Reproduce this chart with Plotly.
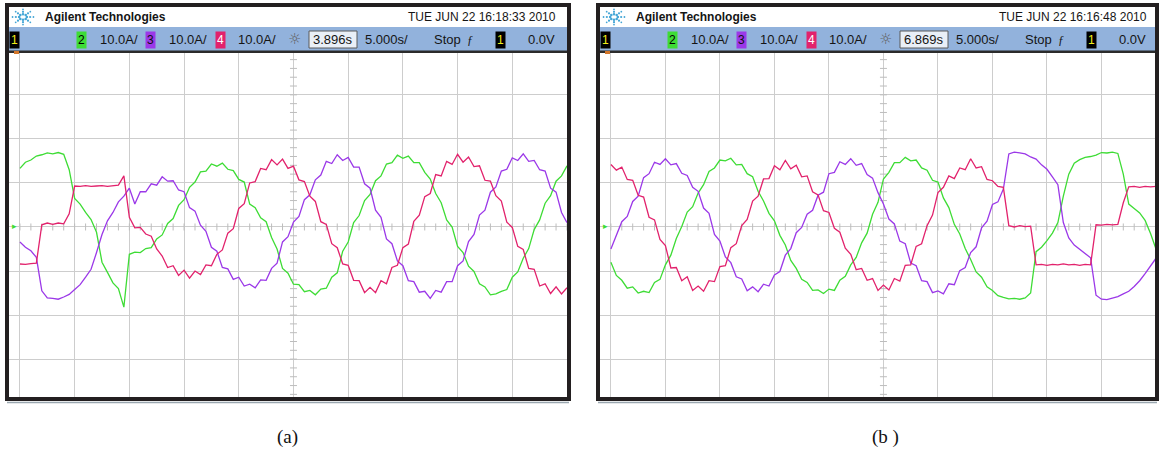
import plotly.graph_objects as go

W, H = 1159, 452

# sample times in screen divisions (horizontal: 5.000 ms/div)
t_div = [i / 10 for i in range(101)]

# panel (a) phase currents, in screen divisions (10.0 A/div)
a_green = [1.33, 1.47, 1.52, 1.61, 1.64, 1.68, 1.66, 1.69, 1.65, 1.30,
           0.65, 0.52, 0.33, 0.17, -0.12, -0.80, -1.03, -1.27, -1.40, -1.82,
           -0.62, -0.57, -0.58, -0.49, -0.47, -0.27, -0.18, 0.08, 0.19, 0.49,
           0.62, 0.90, 1.02, 1.25, 1.27, 1.43, 1.38, 1.45, 1.31, 1.28,
           1.08, 1.02, 0.52, 0.44, 0.21, 0.12, -0.24, -0.50, -0.94, -1.05,
           -1.30, -1.31, -1.47, -1.44, -1.54, -1.41, -1.39, -1.14, -1.04, -0.55,
           -0.34, 0.10, 0.26, 0.60, 0.74, 1.05, 1.16, 1.43, 1.46, 1.63,
           1.56, 1.61, 1.46, 1.46, 1.24, 1.09, 0.76, 0.55, 0.16, 0.00,
           -0.44, -0.58, -0.89, -1.01, -1.29, -1.36, -1.54, -1.52, -1.46, -1.42,
           -1.14, -1.02, -0.71, -0.49, -0.06, 0.16, 0.54, 0.71, 1.04, 1.16, 1.39]
a_purple = [-0.34, -0.46, -0.54, -0.69, -1.45, -1.61, -1.62, -1.64, -1.59, -1.53,
            -1.42, -1.31, -1.14, -0.96, -0.58, -0.17, 0.14, 0.33, 0.57, 0.70,
            0.88, 0.52, 0.80, 0.80, 0.98, 0.95, 1.14, 1.04, 1.05, 0.84,
            0.80, 0.44, 0.36, 0.04, -0.10, -0.46, -0.55, -0.92, -0.95, -1.19,
            -1.14, -1.34, -1.30, -1.38, -1.20, -1.21, -0.94, -0.82, -0.34, -0.22,
            0.11, 0.24, 0.62, 0.73, 1.07, 1.18, 1.49, 1.44, 1.64, 1.51,
            1.58, 1.36, 1.36, 0.98, 0.88, 0.38, 0.22, -0.27, -0.38, -0.77,
            -0.88, -1.22, -1.24, -1.48, -1.46, -1.62, -1.44, -1.48, -1.24, -1.24,
            -0.88, -0.77, -0.33, -0.17, 0.27, 0.38, 0.79, 0.91, 1.27, 1.31,
            1.57, 1.51, 1.66, 1.49, 1.51, 1.30, 1.27, 0.88, 0.79, 0.33, 0.10]
a_red = [-0.84, -0.85, -0.83, -0.82, 0.05, 0.09, 0.06, 0.09, 0.07, 0.30,
         0.93, 0.92, 0.94, 0.92, 0.93, 0.94, 0.92, 0.94, 0.95, 1.16,
         0.22, -0.02, -0.01, -0.16, -0.21, -0.50, -0.66, -0.92, -0.88, -1.10,
         -0.98, -1.16, -1.00, -1.08, -0.86, -0.88, -0.62, -0.52, -0.14, -0.04,
         0.42, 0.53, 1.00, 1.03, 1.33, 1.30, 1.53, 1.41, 1.54, 1.33,
         1.38, 1.07, 1.03, 0.70, 0.58, 0.12, 0.06, -0.38, -0.47, -0.84,
         -0.87, -1.21, -1.22, -1.49, -1.37, -1.49, -1.22, -1.29, -0.92, -0.87,
         -0.47, -0.39, 0.13, 0.27, 0.69, 0.76, 1.19, 1.16, 1.49, 1.42,
         1.65, 1.47, 1.59, 1.37, 1.39, 1.06, 1.04, 0.71, 0.59, 0.11,
         -0.01, -0.44, -0.51, -0.94, -0.96, -1.34, -1.29, -1.51, -1.36, -1.52, -1.38]

# panel (b) phase currents, in screen divisions (10.0 A/div)
b_green = [-0.80, -1.10, -1.21, -1.39, -1.36, -1.50, -1.46, -1.49, -1.26, -1.19,
           -0.86, -0.64, -0.26, 0.01, 0.34, 0.46, 0.77, 0.96, 1.26, 1.34,
           1.52, 1.50, 1.56, 1.41, 1.42, 1.21, 1.14, 0.81, 0.59, 0.31,
           0.14, -0.19, -0.41, -0.76, -0.94, -1.19, -1.26, -1.44, -1.43, -1.51,
           -1.41, -1.44, -1.21, -1.12, -0.86, -0.69, -0.36, -0.14, 0.29, 0.56,
           1.09, 1.24, 1.46, 1.46, 1.58, 1.50, 1.52, 1.34, 1.29, 1.06,
           1.02, 0.66, 0.44, 0.06, -0.16, -0.49, -0.74, -1.02, -1.14, -1.36,
           -1.44, -1.56, -1.60, -1.63, -1.62, -1.64, -1.61, -1.50, -0.56, -0.46,
           -0.31, -0.14, 0.10, 0.70, 1.20, 1.45, 1.53, 1.58, 1.60, 1.63,
           1.69, 1.68, 1.70, 1.67, 1.20, 0.52, 0.42, 0.32, 0.15, -0.15, -0.50]
b_purple = [-0.50, -0.20, 0.12, 0.24, 0.58, 0.70, 1.12, 1.21, 1.47, 1.42,
            1.55, 1.41, 1.44, 1.22, 1.17, 0.90, 0.81, 0.43, 0.31, -0.17,
            -0.32, -0.68, -0.81, -1.13, -1.18, -1.45, -1.36, -1.47, -1.30, -1.34,
            -1.09, -1.01, -0.64, -0.49, -0.13, -0.01, 0.29, 0.38, 0.72, 0.79,
            1.21, 1.24, 1.48, 1.42, 1.55, 1.40, 1.44, 1.19, 1.11, 0.78,
            0.52, 0.18, 0.07, -0.32, -0.38, -0.82, -0.88, -1.22, -1.24, -1.49,
            -1.45, -1.52, -1.29, -1.31, -0.99, -0.92, -0.58, -0.45, -0.02, 0.13,
            0.51, 0.57, 0.86, 1.66, 1.70, 1.68, 1.66, 1.59, 1.54, 1.41,
            1.31, 1.14, 0.96, 0.10, -0.25, -0.41, -0.50, -0.61, -0.70, -1.55,
            -1.64, -1.65, -1.62, -1.58, -1.52, -1.46, -1.35, -1.22, -1.06, -0.88, -0.71]
b_red = [1.42, 1.29, 1.36, 1.08, 1.06, 0.72, 0.68, 0.22, 0.16, -0.28,
         -0.42, -0.93, -0.92, -1.22, -1.13, -1.44, -1.34, -1.46, -1.22, -1.24,
         -0.90, -0.88, -0.47, -0.38, 0.03, 0.17, 0.59, 0.70, 1.09, 1.10,
         1.39, 1.30, 1.51, 1.32, 1.40, 1.14, 1.16, 0.80, 0.73, 0.37,
         0.33, -0.03, -0.12, -0.48, -0.62, -0.97, -0.94, -1.21, -1.17, -1.44,
         -1.32, -1.43, -1.17, -1.23, -0.87, -0.86, -0.44, -0.38, 0.03, 0.27,
         0.78, 0.90, 1.16, 1.10, 1.34, 1.30, 1.55, 1.34, 1.37, 1.08,
         1.05, 0.92, 0.90, 0.03, 0.00, 0.03, 0.01, 0.02, -0.86, -0.85,
         -0.87, -0.85, -0.86, -0.84, -0.86, -0.85, -0.87, -0.85, -0.86, 0.05,
         0.04, 0.06, 0.05, 0.06, 0.55, 0.91, 0.92, 0.90, 0.92, 0.91, 0.92]

series_names = ["Ch2 (green)", "Ch3 (purple)", "Ch4 (red)"]
series_colors = ["#3edc35", "#9b38e8", "#e2226c"]
panel_data = [[a_green, a_purple, a_red], [b_green, b_purple, b_red]]

panel_dates = ["TUE JUN 22 16:18:33 2010", "TUE JUN 22 16:16:48 2010"]
panel_delays = ["3.896s", "6.869s"]
captions = ["(a)", "(b )"]
channel_labels = ["1", "2", "3", "4"]
scale_label = "10.0A/"
timebase_label = "5.000s/"

SANS = "Liberation Sans, Arial, sans-serif"
SERIF = "Liberation Serif, Times New Roman, serif"


def X(p):
    return p / W


def Y(p):
    return 1 - p / H


fig = go.Figure()

axes = [("x", "y"), ("x2", "y2")]
for (xa, ya), traces in zip(axes, panel_data):
    # minor ticks on the centre axes
    fig.add_trace(go.Scatter(
        x=[5.0] * 39, y=[(k - 19) * 0.2 for k in range(39)], mode="markers",
        marker=dict(symbol="line-ew", size=5, line=dict(width=1, color="#bdbdbd")),
        xaxis=xa, yaxis=ya, hoverinfo="skip", showlegend=False))
    fig.add_trace(go.Scatter(
        x=[k * 0.2 for k in range(51)], y=[0.0] * 51, mode="markers",
        marker=dict(symbol="line-ns", size=5, line=dict(width=1, color="#bdbdbd")),
        xaxis=xa, yaxis=ya, hoverinfo="skip", showlegend=False))
    for name, col, ys in zip(series_names, series_colors, traces):
        fig.add_trace(go.Scatter(
            x=t_div, y=ys, mode="lines", name=name,
            line=dict(color=col, width=1.3),
            xaxis=xa, yaxis=ya, hoverinfo="skip", showlegend=False))

ax_common = dict(showticklabels=False, ticks="", zeroline=False, showline=False,
                 showgrid=True, gridcolor="#cdcdcd", gridwidth=1.2,
                 dtick=1, tick0=0, fixedrange=True)
ydom = [Y(397), Y(53)]
fig.update_layout(
    width=W, height=H, margin=dict(l=0, r=0, t=0, b=0),
    paper_bgcolor="white", plot_bgcolor="white", showlegend=False,
    xaxis=dict(domain=[X(9), X(567)], range=[-0.2, 10], anchor="y", **ax_common),
    yaxis=dict(domain=ydom, range=[-3.86, 3.95], anchor="x", **ax_common),
    xaxis2=dict(domain=[X(600), X(1156)], range=[-0.2, 10], anchor="y2", **ax_common),
    yaxis2=dict(domain=ydom, range=[-3.86, 3.95], anchor="x2", **ax_common),
)

shapes = []
ann = []


def rect(x0, y0, x1, y1, fill, line=None, lw=0, layer="above"):
    shapes.append(dict(type="rect", xref="paper", yref="paper",
                       x0=X(x0), x1=X(x1), y0=Y(y1), y1=Y(y0),
                       fillcolor=fill, line=dict(color=line or fill, width=lw),
                       layer=layer))


def text(x, y, s, size=13, color="#151515", xanchor="left", family=SANS,
         bold=False, bg=None, pad=0):
    ann.append(dict(xref="paper", yref="paper", x=X(x), y=Y(y), text=("<b>%s</b>" % s) if bold else s,
                    showarrow=False, xanchor=xanchor, yanchor="middle",
                    font=dict(size=size, color=color, family=family),
                    bgcolor=bg, borderpad=pad))


frames = [(7, 569), (598, 1157)]
for i, (fl, fr) in enumerate(frames):
    dx = fl - 7
    inner_r = fr - 2
    # blue status band and separator
    rect(fl + 2, 27, inner_r, 51, "#92b2dc")
    rect(fl + 2, 50.5, inner_r, 53, "#2b2b2b")
    rect(14 + dx, 51, 19 + dx, 54, "#d2762a")
    # outer frame
    shapes.append(dict(type="rect", xref="paper", yref="paper",
                       x0=X(fl), x1=X(fr), y0=Y(399), y1=Y(5),
                       line=dict(color="#231f20", width=4), layer="above"))
    shapes.append(dict(type="line", xref="paper", yref="paper",
                       x0=X(fl), x1=X(fr), y0=Y(402.5), y1=Y(402.5),
                       line=dict(color="#9aa7b0", width=1.5), layer="above"))
    # Agilent logo: starburst of dots
    cx, cy = 23 + dx, 17
    rays = [(1, 0), (0.7, 0.7), (0, 1), (-0.7, 0.7), (-1, 0), (-0.7, -0.7), (0, -1), (0.7, -0.7)]
    for ux, uy in rays:
        for r, s in [(3.5, 1.3), (6.5, 1.1), (9.5, 0.9)]:
            px_, py_ = cx + ux * r * 1.1, cy + uy * r * 0.8
            shapes.append(dict(type="circle", xref="paper", yref="paper",
                               x0=X(px_ - s), x1=X(px_ + s), y0=Y(py_ + s), y1=Y(py_ - s),
                               fillcolor="#45a6d6", line=dict(width=0), layer="above"))
    text(44 + dx, 17, "Agilent Technologies", size=12, bold=True)
    text(557 + dx, 17, panel_dates[i], size=12, xanchor="right")
    # status band entries
    text(14.5 + dx, 39.5, channel_labels[0], size=12, color="#f2ee1a", xanchor="center", bg="#000000", pad=1)
    text(81.5 + dx, 39.5, channel_labels[1], size=12, color="#000000", xanchor="center", bg=series_colors[0], pad=1)
    text(99 + dx, 39.5, scale_label)
    text(150 + dx, 39.5, channel_labels[2], size=12, color="#111111", xanchor="center", bg=series_colors[1], pad=1)
    text(168 + dx, 39.5, scale_label)
    text(220 + dx, 39.5, channel_labels[3], size=12, color="#ffffff", xanchor="center", bg=series_colors[2], pad=1)
    text(237 + dx, 39.5, scale_label)
    text(294 + dx, 38.5, "☼", size=15, color="#606060", xanchor="center", family="DejaVu Sans")
    rect(309 + dx, 31, 357 + dx, 48, "#e9eff7", line="#5a5a5a", lw=1)
    text(333 + dx, 39.5, panel_delays[i], xanchor="center")
    text(364 + dx, 39.5, timebase_label)
    text(433 + dx, 39.5, "Stop")
    text(470 + dx, 39.5, "<i>ƒ</i>", size=12, xanchor="center", family=SERIF)
    text(500 + dx, 39.5, channel_labels[0], size=12, color="#f2ee1a", xanchor="center", bg="#000000", pad=1)
    text(556 + dx, 39.5, "0.0V", xanchor="right")
    # ground reference marker
    text(14 + dx, 226, "▸", size=9, color="#3edc35", xanchor="center", family="DejaVu Sans")
    # caption
    text((287, 885)[i], 437, captions[i], size=19, xanchor="center", family=SERIF, color="#111111")

fig.update_layout(shapes=shapes, annotations=ann)
fig.write_html("out.html", config={"displayModeBar": False},
               post_script="document.body.style.margin='0px';")
